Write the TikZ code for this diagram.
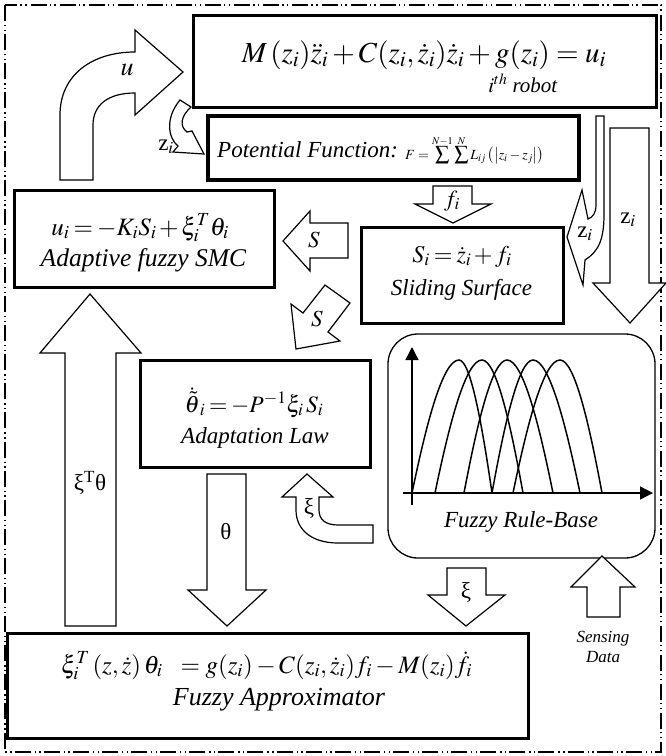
\documentclass[tikz,border=0pt]{standalone}
\usepackage{mathptmx}
\usepackage{fontspec}
\setmainfont{Liberation Serif}
\usetikzlibrary{arrows.meta}

\tikzset{
  box/.style={draw, line width=3pt, inner sep=0pt},
  blockarrow/.style={draw, line width=1.2pt, fill=white, line join=miter},
  lbl/.style={font=\fontsize{23}{27}\selectfont, inner sep=0pt},
  eqn/.style={font=\fontsize{26}{30}\selectfont, inner sep=0pt, anchor=base},
  tight/.style={execute at begin node={\thickmuskip=3mu\medmuskip=2mu}},
  small/.style={font=\fontsize{17}{20}\selectfont, inner sep=0pt, anchor=base},
  mf/.style={line width=1.5pt},
  axis/.style={line width=1.3pt, -{Triangle[length=13pt,width=13pt]}},
}

\begin{document}
\begin{tikzpicture}[x=1pt,y=-1pt]
  \useasboundingbox (0,0) rectangle (666,756);
  \draw[line width=1.2pt, dash pattern=on 16pt off 4pt on 1.3pt off 3.5pt on 1.3pt off 3pt]
    (5,5) rectangle (661,752);

  % blocks
  \node[box, minimum width=463pt, minimum height=92pt] (robot) at (424.5,61) {};
  \node[box, line width=3.5pt, minimum width=371pt, minimum height=64pt] (potential) at (393.5,148) {};
  \node[box, minimum width=260pt, minimum height=97pt] (smc) at (144,238.5) {};
  \node[box, minimum width=202pt, minimum height=96pt] (sliding) at (462,275) {};
  \node[box, minimum width=230pt, minimum height=107pt] (adapt) at (255,413.5) {};
  \node[draw, line width=1.3pt, rounded corners=30pt, minimum width=267pt, minimum height=224pt,
    inner sep=0pt] (rulebase) at (521.5,446) {};
  \node[box, minimum width=521pt, minimum height=105pt] (approx) at (267.5,685.5) {};

  % texts of the blocks
  \node[eqn, font=\fontsize{29}{32}\selectfont] (roboteq) at (424,62)
    {$M\,(z_i)\ddot{z}_i + C(z_i,\dot{z}_i)\dot{z}_i + g(z_i) = u_i$};
  \node[lbl, anchor=base, font=\fontsize{21}{24}\selectfont] (robotlbl) at (523,92) {$i^{th}$ \textit{robot}};
  \node[lbl, anchor=base west, font=\fontsize{23}{26}\selectfont] (potlbl) at (217,157) {\textit{Potential Function:}};
  \node[inner sep=0pt, anchor=base west, font=\fontsize{14}{16}\selectfont] (poteq) at (405,159)
    {$\displaystyle F=\sum^{N-1}\sum^{N}L_{ij}\left(\left|z_i-z_j\right|\right)$};
  \node[eqn, tight, font=\fontsize{25}{30}\selectfont] (smceq) at (140,235) {$u_i = -K_iS_i + \xi_i^T\theta_i$};
  \node[lbl, anchor=base, font=\fontsize{25.5}{30}\selectfont] (smclbl) at (143.5,266) {\textit{Adaptive fuzzy SMC}};
  \node[eqn, tight, font=\fontsize{24}{28}\selectfont] (slideq) at (462,262) {$S_i = \dot{z}_i + f_i$};
  \node[lbl, anchor=base] (slidlbl) at (461.5,295) {\textit{Sliding Surface}};
  \node[eqn, tight, font=\fontsize{23.5}{28}\selectfont] (adapteq) at (254,412) {$\dot{\tilde{\theta}}_i = -P^{-1}\xi_i\,S_i$};
  \node[lbl, anchor=base] (adaptlbl) at (255,443) {\textit{Adaptation Law}};
  \node[lbl, anchor=base] (rulelbl) at (521,527) {\textit{Fuzzy Rule-Base}};
  \node[eqn, font=\fontsize{25}{30}\selectfont] (approxeq) at (266.5,673)
    {$\xi_i^T\left(z,\dot{z}\right)\theta_i\ \ = g(z_i) - C(z_i,\dot{z}_i)f_i - M(z_i)\dot{f}_i$};
  \node[lbl, anchor=base, font=\fontsize{26}{30}\selectfont] (approxlbl) at (279,705) {\textit{Fuzzy Approximator}};

  % membership functions
  \draw[axis] (412,505) -- (412,347);
  \draw[axis] (403,493) -- (653,493);
  \foreach \l/\p/\r in {412/459/492, 435/482/523, 464/507/553, 492/533/580, 513/560/602}{
    \draw[mf] (\l,493) .. controls ({\l+0.3*(\p-\l)},425) and ({\p-0.35*(\p-\l)},360) .. (\p,360)
      .. controls ({\p+0.35*(\r-\p)},360) and ({\r-0.3*(\r-\p)},425) .. (\r,493);
  }

  % u to the robot
  \draw[blockarrow] (60,180) -- (60,115) .. controls (60,75) and (92,52) .. (135,52) -- (135,30)
    -- (183,72) -- (135,115) -- (135,93) .. controls (108,93) and (93,105) .. (93,125) -- (93,180) -- cycle;
  \node[lbl, font=\fontsize{26}{30}\selectfont] (ulbl) at (127,70) {$u$};

  % z_i to the potential function
  \draw[blockarrow] (180,100) -- (191,107) .. controls (181,116) and (179,126) .. (187,132) -- (192,131)
    -- (204,154) -- (173,152) -- (178,146) .. controls (168,138) and (165,118) .. (180,100) -- cycle;
  \node[lbl] (zlbla) at (166,147) {z$_i$};

  % f_i to the sliding surface
  \draw[blockarrow] (433,186) -- (472,186) -- (472,204) -- (491,204) -- (453,223) -- (415,204)
    -- (433,204) -- cycle;
  \node[lbl] (flbl) at (452,201) {$f_i$};

  % S to the controller
  \draw[blockarrow] (348,223) -- (310,223) -- (310,211) -- (283,241) -- (310,271) -- (310,258)
    -- (348,258) -- cycle;
  \node[lbl] (slbla) at (314,240) {$S$};

  % S to the adaptation law
  \draw[blockarrow] (325,285) -- (350,303) -- (328,332) -- (340,341) -- (296,349) -- (291,304)
    -- (303,313) -- cycle;
  \node[lbl] (slblb) at (317,319) {$S$};

  % xi^T theta to the controller
  \draw[blockarrow] (65,626) -- (65,353) -- (40,353) -- (90,294) -- (141,353) -- (116,353)
    -- (116,626) -- cycle;
  \node[lbl] (xtlbl) at (90,483) {ξ\textsuperscript{T}θ};

  % theta to the approximator
  \draw[blockarrow] (207,474) -- (246,474) -- (246,590) -- (266,590) -- (227,626) -- (188,590)
    -- (207,590) -- cycle;
  \node[lbl] (thlbl) at (226,532) {θ};

  % xi to the adaptation law
  \draw[blockarrow] (282,497) -- (307,474) -- (333,497) -- (319,497) -- (319,510)
    .. controls (319,520) and (326,525) .. (338,525) -- (373,525) -- (373,543) -- (338,543)
    .. controls (312,543) and (296,530) .. (296,510) -- (296,497) -- cycle;
  \node[lbl] (xlbla) at (309,508) {ξ};

  % xi to the approximator
  \draw[blockarrow] (447,568) -- (486,568) -- (486,595) -- (505,595) -- (466,626) -- (428,595)
    -- (447,595) -- cycle;
  \node[lbl] (xlblb) at (466,592) {ξ};

  % sensing data
  \draw[blockarrow] (587,617) -- (587,587) -- (571,587) -- (602,556) -- (635,587) -- (620,587)
    -- (620,617) -- cycle;
  \node[small, font=\fontsize{17}{20}\selectfont\itshape] (senslbl) at (603,642) {Sensing};
  \node[small, font=\fontsize{17}{20}\selectfont\itshape] (datalbl) at (603,662) {Data};

  % z_i to the rule-base
  \draw[blockarrow] (610,128) -- (649,128) -- (649,283) -- (666,283) -- (630,323) -- (593,283)
    -- (610,283) -- cycle;
  \node[lbl] (zlblb) at (628,220) {z$_i$};

  % z_i to the sliding surface
  \draw[blockarrow] (596,116) -- (596,205) .. controls (596,213) and (593,217) .. (588,219)
    -- (582,190) -- (567,237) -- (583,285) -- (585,260) .. controls (598,252) and (604,240) .. (604,215)
    -- (604,116) -- cycle;
  \node[lbl] (zlblc) at (585,234) {z$_i$};
\end{tikzpicture}
\end{document}
